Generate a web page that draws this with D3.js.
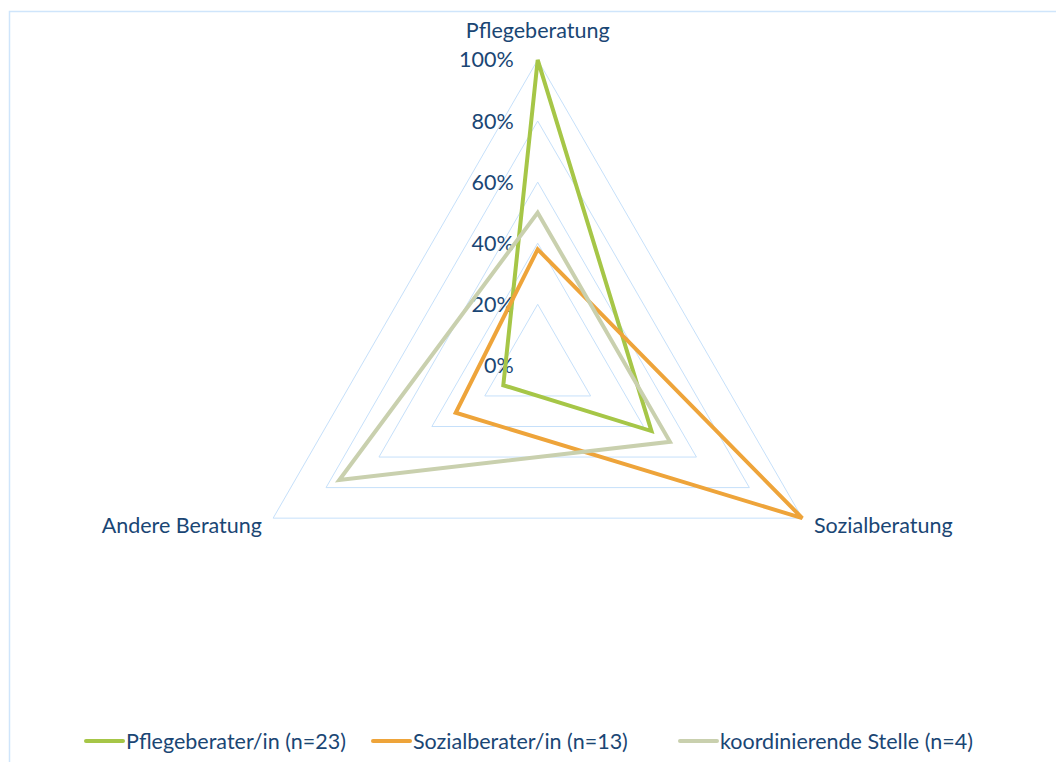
<!DOCTYPE html>
<html>
<head>
<meta charset="utf-8">
<script src="https://cdn.jsdelivr.net/npm/d3@7"></script>
<style>
  body { margin: 0; background: #fff; }
  svg { display: block; font-family: Lato, "Open Sans", sans-serif; }
</style>
</head>
<body>
<svg id="radar" width="1056" height="762"></svg>
<script>
// Axes (categories) and series values in percent
const axes = ["Pflegeberatung", "Sozialberatung", "Andere Beratung"];
const pflegeberater = [100, 43, 13];
const sozialberater = [38, 100, 31];
const koordinierend = [50, 50, 75];
const seriesNames = ["Pflegeberater/in (n=23)", "Sozialberater/in (n=13)", "koordinierende Stelle (n=4)"];
const ticks = [0, 20, 40, 60, 80, 100];

const series = [
    { name: seriesNames[0], values: pflegeberater, color: "#a6c647" },
    { name: seriesNames[1], values: sozialberater, color: "#eea43a" },
    { name: seriesNames[2], values: koordinierend, color: "#c9d0ae" }
];

const textColor = "#1a4674";
const gridColor = "#c6e0fa";
const fontSize = "21.5px";

const center = { x: 537.7, y: 365.4 };
const radius = 305.5;

const svg = d3.select("#radar");

// Outer chart border (top and left visible)
svg.append("path")
    .attr("d", "M9.5,762 L9.5,11.5 L1056,11.5")
    .attr("fill", "none")
    .attr("stroke", "#cfe5fb")
    .attr("stroke-width", 1.5);

const rScale = d3.scaleLinear().domain([0, 100]).range([0, radius]);

const angle = d3.scaleBand().domain(axes).range([0, 2 * Math.PI]);
// angle measured clockwise from top
function point(axis, value) {
    const a = angle(axis);
    const r = rScale(value);
    return [center.x + r * Math.sin(a), center.y - r * Math.cos(a)];
}

const g = svg.append("g");

// Grid triangles
g.selectAll(".grid")
    .data(ticks.filter(t => t > 0))
    .enter()
    .append("polygon")
    .attr("class", "grid")
    .attr("points", t => axes.map(a => point(a, t).join(",")).join(" "))
    .attr("fill", "none")
    .attr("stroke", gridColor)
    .attr("stroke-width", 1);

// Tick labels
g.selectAll(".tick-label")
    .data(ticks)
    .enter()
    .append("text")
    .attr("class", "tick-label")
    .attr("x", center.x - 24)
    .attr("y", t => point(axes[0], t)[1])
    .attr("dy", "0.35em")
    .attr("text-anchor", "end")
    .attr("fill", textColor)
    .style("font-size", fontSize)
    .text(t => t + "%");

// Series polygons
g.selectAll(".series")
    .data(series)
    .enter()
    .append("polygon")
    .attr("class", "series")
    .attr("points", s => axes.map((a, i) => point(a, s.values[i]).join(",")).join(" "))
    .attr("fill", "none")
    .attr("stroke", s => s.color)
    .attr("stroke-width", 4)
    .attr("stroke-linejoin", "miter");

// Axis labels
const labelPos = [
    { x: center.x, y: 30, anchor: "middle" },
    { x: 814, y: 525, anchor: "start" },
    { x: 262, y: 525, anchor: "end" }
];
g.selectAll(".axis-label")
    .data(axes)
    .enter()
    .append("text")
    .attr("class", "axis-label")
    .attr("x", (d, i) => labelPos[i].x)
    .attr("y", (d, i) => labelPos[i].y)
    .attr("dy", "0.35em")
    .attr("text-anchor", (d, i) => labelPos[i].anchor)
    .attr("fill", textColor)
    .style("font-size", fontSize)
    .text(d => d);

// Legend
const legendX = [86, 373, 680];
const legend = svg.selectAll(".legend")
    .data(series)
    .enter()
    .append("g")
    .attr("class", "legend")
    .attr("transform", (d, i) => `translate(${legendX[i]}, 741)`);

legend.append("line")
    .attr("x1", 0)
    .attr("x2", 37)
    .attr("stroke", d => d.color)
    .attr("stroke-width", 4)
    .attr("stroke-linecap", "round");

legend.append("text")
    .attr("x", 40)
    .attr("dy", "0.35em")
    .attr("fill", textColor)
    .style("font-size", fontSize)
    .text(d => d.name);
</script>
</body>
</html>
